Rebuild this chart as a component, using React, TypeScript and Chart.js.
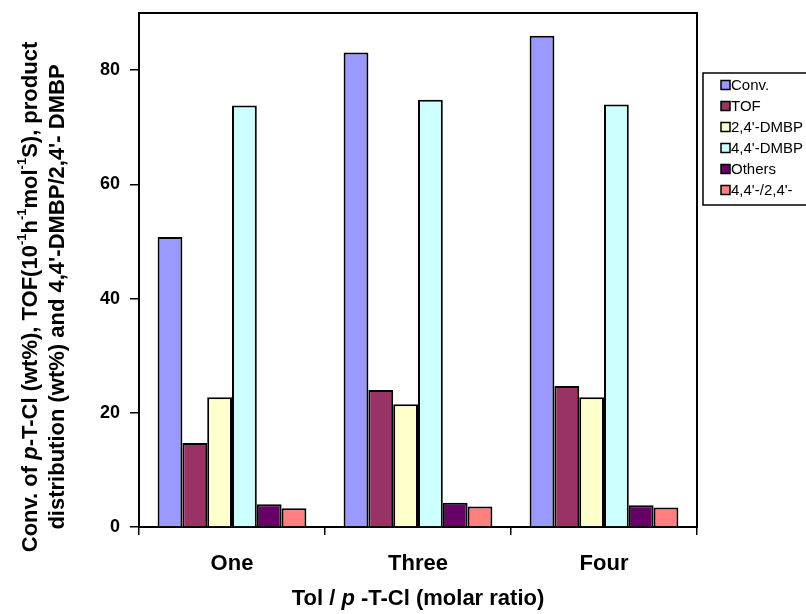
import React, { useEffect, useRef } from 'react';
import { Chart, registerables } from 'chart.js';

Chart.register(...registerables);

// Tol / p-T-Cl molar ratio groups
const categories = ['One', 'Three', 'Four'];

// Series values per group
const conv = [50.8, 83.1, 86.0];
const tof = [14.7, 24.0, 24.7];
const dmbp24 = [22.7, 21.5, 22.7];
const dmbp44 = [73.8, 74.8, 74.0];
const others = [4.0, 4.25, 3.8];
const ratio4424 = [3.3, 3.6, 3.4];

const seriesNames = ['Conv.', 'TOF', "2,4'-DMBP", "4,4'-DMBP", 'Others', "4,4'-/2,4'-"];
const seriesColors = ['#9999FF', '#993366', '#FFFFCC', '#CCFFFF', '#660066', '#FF8080'];

// Y axis
const yTicks = [0, 20, 40, 60, 80];
const yMin = 0;
const yMax = 90;

const FAMILY = '"Liberation Sans", Arial, Helvetica, sans-serif';

type Seg = { t: string; it?: boolean; sup?: boolean };

const yTitleLine1: Seg[] = [
  { t: 'Conv. of ' },
  { t: 'p', it: true },
  { t: '-T-Cl (wt%), TOF(10' },
  { t: '-1', sup: true },
  { t: 'h' },
  { t: '-1', sup: true },
  { t: 'mol' },
  { t: '-1', sup: true },
  { t: 'S), product' },
];
const yTitleLine2: Seg[] = [{ t: "distribution (wt%) and 4,4'-DMBP/2,4'- DMBP" }];
const xTitle: Seg[] = [{ t: 'Tol / ' }, { t: 'p', it: true }, { t: ' -T-Cl (molar ratio)' }];

function drawRich(ctx: CanvasRenderingContext2D, segs: Seg[], cx: number, cy: number, size: number) {
  const fontFor = (s: Seg) =>
    `${s.it ? 'italic ' : ''}bold ${s.sup ? Math.round(size * 0.6) : size}px ${FAMILY}`;
  const widths = segs.map((s) => {
    ctx.font = fontFor(s);
    return ctx.measureText(s.t).width;
  });
  const total = widths.reduce((a, b) => a + b, 0);
  let x = cx - total / 2;
  ctx.textAlign = 'left';
  ctx.textBaseline = 'middle';
  ctx.fillStyle = '#000';
  segs.forEach((s, i) => {
    ctx.font = fontFor(s);
    ctx.fillText(s.t, x, s.sup ? cy - size * 0.38 : cy);
    x += widths[i];
  });
}

const decorPlugin = {
  id: 'decor',
  afterDraw(chart: any) {
    const ctx: CanvasRenderingContext2D = chart.ctx;
    const { left, right, top, bottom } = chart.chartArea;
    ctx.save();

    // plot frame (top and right sides)
    ctx.strokeStyle = '#000';
    ctx.lineWidth = 2;
    ctx.beginPath();
    ctx.moveTo(left - 1, top);
    ctx.lineTo(right, top);
    ctx.lineTo(right, bottom + 1);
    ctx.stroke();

    // y axis title (two rotated lines)
    const midY = 297;
    [
      { segs: yTitleLine1, x: 31 },
      { segs: yTitleLine2, x: 58 },
    ].forEach(({ segs, x }) => {
      ctx.save();
      ctx.translate(x, midY);
      ctx.rotate(-Math.PI / 2);
      drawRich(ctx, segs, 0, 0, 22);
      ctx.restore();
    });

    // x axis title
    drawRich(ctx, xTitle, (left + right) / 2, 599, 22);

    // legend
    const lx = 703;
    const ly = 73;
    ctx.fillStyle = '#fff';
    ctx.fillRect(lx, ly, 120, 132);
    ctx.strokeStyle = '#000';
    ctx.lineWidth = 1.5;
    ctx.strokeRect(lx, ly, 120, 132);
    ctx.font = `15px ${FAMILY}`;
    ctx.textAlign = 'left';
    ctx.textBaseline = 'middle';
    seriesNames.forEach((name, i) => {
      const cy = ly + 12 + i * 21;
      ctx.fillStyle = seriesColors[i];
      ctx.fillRect(721, cy - 4.5, 9, 9);
      ctx.strokeStyle = '#000';
      ctx.lineWidth = 1.5;
      ctx.strokeRect(721, cy - 4.5, 9, 9);
      ctx.fillStyle = '#000';
      ctx.fillText(name, 731, cy + 0.5);
    });

    ctx.restore();
  },
};

export default function App() {
  const canvasRef = useRef<HTMLCanvasElement | null>(null);

  useEffect(() => {
    if (!canvasRef.current) return;
    const seriesData = [conv, tof, dmbp24, dmbp44, others, ratio4424];
    const chart = new Chart(canvasRef.current, {
      type: 'bar',
      data: {
        labels: categories,
        datasets: seriesData.map((d, i) => ({
          label: seriesNames[i],
          data: d,
          backgroundColor: seriesColors[i],
          borderColor: '#000',
          borderWidth: 2,
          categoryPercentage: 0.8,
          barPercentage: 1.0,
        })),
      },
      options: {
        animation: false,
        responsive: false,
        devicePixelRatio: 1,
        layout: { padding: { top: 13, right: 109, left: 0, bottom: 0 } },
        plugins: {
          legend: { display: false },
          tooltip: { enabled: false },
          title: { display: false },
        },
        scales: {
          x: {
            offset: true,
            grid: {
              display: true,
              offset: true,
              drawOnChartArea: false,
              drawTicks: true,
              tickLength: 8,
              color: '#000',
              lineWidth: 1.5,
            },
            border: { display: true, color: '#000', width: 2 },
            ticks: {
              color: '#000',
              font: { family: FAMILY, size: 22, weight: 'bold' },
              padding: 16,
              maxRotation: 0,
            },
            afterFit: (s: any) => {
              s.height = 87;
              s.paddingLeft = 0;
              s.paddingRight = 0;
            },
          },
          y: {
            min: yMin,
            max: yMax,
            afterBuildTicks: (s: any) => {
              s.ticks = yTicks.map((v) => ({ value: v }));
            },
            grid: {
              display: true,
              drawOnChartArea: false,
              drawTicks: true,
              tickLength: 9,
              color: '#000',
              lineWidth: 1.5,
            },
            border: { display: true, color: '#000', width: 2 },
            ticks: {
              color: '#000',
              font: { family: FAMILY, size: 18, weight: 'bold' },
              padding: 10,
            },
            afterFit: (s: any) => {
              s.width = 139;
              s.paddingTop = 0;
              s.paddingBottom = 0;
            },
          },
        },
      },
      plugins: [decorPlugin],
    } as any);
    return () => chart.destroy();
  }, []);

  return (
    <div style={{ position: 'absolute', left: 0, top: 0, width: 806, height: 614, background: '#fff' }}>
      <canvas ref={canvasRef} width={806} height={614} />
    </div>
  );
}
